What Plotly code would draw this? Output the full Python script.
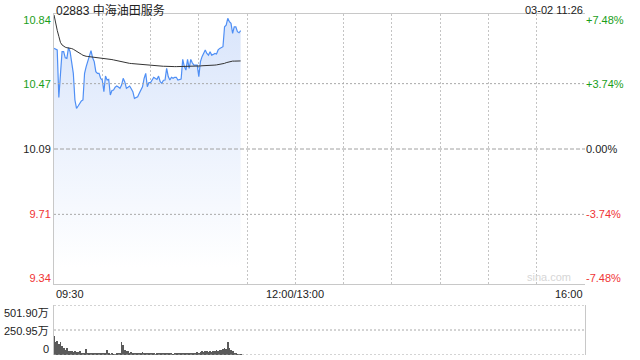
import plotly.graph_objects as go
import pandas as pd

stock_title = "02883 中海油田服务"
stamp = "03-02 11:26"
prev_close = 10.09

times = pd.date_range("2024-03-02 09:30", "2024-03-02 11:26", freq="min").strftime("%H:%M").tolist()

price = [
    10.675, 10.67, 10.666, 10.39, 10.52, 10.656, 10.656, 10.62, 10.617, 10.679,
    10.656, 10.60, 10.53, 10.375, 10.326, 10.34, 10.356, 10.37, 10.375, 10.53,
    10.569, 10.60, 10.636, 10.662, 10.62, 10.598, 10.54, 10.53, 10.53, 10.50,
    10.491, 10.423, 10.514, 10.491, 10.495, 10.404, 10.43, 10.433, 10.449, 10.456,
    10.45, 10.443, 10.462, 10.501, 10.48, 10.443, 10.449, 10.456, 10.44, 10.423,
    10.385, 10.39, 10.394, 10.414, 10.433, 10.452, 10.50, 10.53, 10.452, 10.476,
    10.476, 10.491, 10.507, 10.50, 10.495, 10.514, 10.481, 10.472, 10.49, 10.491,
    10.559, 10.511, 10.491, 10.507, 10.501, 10.507, 10.507, 10.491, 10.495, 10.497,
    10.611, 10.569, 10.549, 10.611, 10.559, 10.611, 10.59, 10.578, 10.578, 10.578,
    10.511, 10.598, 10.627, 10.65, 10.666, 10.646, 10.636, 10.656, 10.636, 10.64,
    10.646, 10.642, 10.666, 10.675, 10.68, 10.685, 10.801, 10.81, 10.85, 10.83,
    10.821, 10.762, 10.80, 10.80, 10.772, 10.766, 10.778,
]

avg_price = [
    10.87, 10.82, 10.78, 10.745, 10.71, 10.695, 10.686, 10.682, 10.679, 10.678,
    10.676, 10.674, 10.670, 10.665, 10.660, 10.655, 10.648, 10.641, 10.635, 10.631,
    10.629, 10.628, 10.627, 10.627, 10.626, 10.625, 10.624, 10.622, 10.621, 10.620,
    10.619, 10.618, 10.617, 10.615, 10.613, 10.612, 10.610, 10.608, 10.606, 10.604,
    10.602, 10.598, 10.594, 10.592, 10.591, 10.590, 10.589, 10.588, 10.587, 10.586,
    10.585, 10.584, 10.583, 10.582, 10.581, 10.580, 10.579, 10.578, 10.577, 10.576,
    10.575, 10.575, 10.574, 10.574, 10.573, 10.573, 10.572, 10.572, 10.571, 10.571,
    10.570, 10.570, 10.570, 10.569, 10.569, 10.569, 10.569, 10.569, 10.569, 10.569,
    10.570, 10.570, 10.570, 10.571, 10.571, 10.571, 10.572, 10.572, 10.572, 10.573,
    10.573, 10.573, 10.574, 10.574, 10.575, 10.575, 10.576, 10.576, 10.577, 10.577,
    10.578, 10.579, 10.580, 10.581, 10.583, 10.585, 10.588, 10.592, 10.595, 10.598,
    10.600, 10.601, 10.601, 10.602, 10.602, 10.602, 10.602,
]

volume = [  # 万股
    194, 126, 143, 109, 126, 92, 75, 48, 75, 41,
    45, 40, 35, 38, 35, 30, 38, 25, 22, 20,
    60, 15, 25, 20, 22, 18, 15, 20, 12, 15,
    20, 15, 12, 48, 12, 10, 18, 10, 8, 12,
    15, 20, 126, 100, 55, 40, 38, 20, 30, 25,
    15, 18, 12, 20, 25, 28, 18, 22, 20, 15,
    12, 15, 12, 10, 15, 18, 12, 20, 15, 18,
    25, 12, 15, 22, 10, 20, 15, 25, 18, 20,
    15, 22, 18, 25, 20, 15, 22, 18, 25, 28,
    20, 35, 40, 30, 38, 45, 35, 42, 30, 45,
    38, 48, 40, 50, 55, 60, 75, 65, 126, 70,
    48, 38, 25, 15, 10, 8, 5,
]

price_ticks = [10.84, 10.47, 10.09, 9.71, 9.34]
price_tick_colors = ["#1a9e1a", "#1a9e1a", "#222222", "#f03434", "#f03434"]
pct_labels = ["+7.48%", "+3.74%", "0.00%", "-3.74%", "-7.48%"]
vol_ticks = [0, 250.95, 501.90]
vol_labels = ["0", "250.95万", "501.90万"]
vol_label_px = [349, 331, 313]  # label centres in the reference sit slightly off the grid
x_label_pos = [0, 150, 330]
x_labels = ["09:30", "12:00/13:00", "16:00"]


def trade_minute(t):
    h, m = map(int, t.split(":"))
    mins = h * 60 + m - (9 * 60 + 30)
    if mins > 150:
        mins -= 60
    return mins


x = [trade_minute(t) for t in times]

W, H = 640, 360
L, R = 54, 585
main_top, main_bot = 14, 284
vol_top, vol_bot = 305, 355
dom_x = [L / W, R / W]
dom_main = [1 - main_bot / H, 1 - main_top / H]
dom_vol = [1 - vol_bot / H, 1 - vol_top / H]
y_range = [9.305, 10.875]

FONT = "Arial, Liberation Sans, Noto Sans CJK SC, sans-serif"

fig = go.Figure()

fig.add_trace(go.Scatter(
    x=x, y=price, mode="lines", line=dict(color="#4f8ff5", width=1.2),
    fill="tozeroy",
    fillgradient=dict(type="vertical", start=9.40, stop=10.85,
                      colorscale=[[0, "rgba(255,255,255,1)"], [1, "rgba(217,229,251,1)"]]),
    xaxis="x", yaxis="y", hoverinfo="skip", showlegend=False,
))
fig.add_trace(go.Scatter(
    x=x, y=avg_price, mode="lines", line=dict(color="#333333", width=1),
    xaxis="x", yaxis="y", hoverinfo="skip", showlegend=False,
))
fig.add_trace(go.Scatter(
    x=x, y=price, mode="lines", line=dict(width=0), opacity=0,
    xaxis="x", yaxis="y3", hoverinfo="skip", showlegend=False,
))
fig.add_trace(go.Bar(
    x=x, y=volume, width=0.5, marker=dict(color="#5a5a5a", line=dict(width=0)),
    xaxis="x2", yaxis="y2", hoverinfo="skip", showlegend=False,
))

grid_col = "#c4c4c4"
hgrid_col = "#a8a8a8"
border_col = "#c8c8c8"
DOT = "2px,2px"

shapes = []
for v, dash, col in [(10.47, DOT, hgrid_col), (9.71, DOT, hgrid_col), (10.09, "4px,2px", "#a0a0a0")]:
    shapes.append(dict(type="line", xref="x domain", yref="y", x0=0, x1=1, y0=v, y1=v,
                       line=dict(color=col, width=1, dash=dash), layer="above"))
for v in vol_ticks:
    shapes.append(dict(type="line", xref="x2 domain", yref="y2", x0=0, x1=1, y0=v, y1=v,
                       line=dict(color=hgrid_col, width=1, dash=DOT), layer="above"))

annotations = [
    dict(text=stock_title, xref="paper", yref="paper", x=L / W, y=1 - 1 / H,
         xanchor="left", yanchor="top", showarrow=False, font=dict(size=12, color="#222", family=FONT)),
    dict(text=stamp, xref="paper", yref="paper", x=R / W, y=1 - 2 / H,
         xanchor="right", yanchor="top", showarrow=False, font=dict(size=11, color="#222", family=FONT)),
    dict(text="sina.com", xref="paper", yref="paper", x=573 / W, y=1 - 285 / H,
         xanchor="right", yanchor="bottom", showarrow=False, font=dict(size=11, color="#d6d6d6", family=FONT)),
]
anchors = ["left", "center", "right"]
for pos, lab, anc in zip(x_label_pos, x_labels, anchors):
    annotations.append(dict(text=lab, xref="x", yref="paper", x=pos, y=1 - 286 / H,
                            xanchor=anc, yanchor="top", showarrow=False,
                            font=dict(size=11, color="#222", family=FONT)))
for lab, py in zip(vol_labels, vol_label_px):
    annotations.append(dict(text=lab, xref="paper", yref="paper", x=51 / W, y=1 - py / H,
                            xanchor="right", yanchor="middle", showarrow=False,
                            font=dict(size=11, color="#222", family=FONT)))

fig.update_layout(
    width=W, height=H, margin=dict(l=0, r=0, t=0, b=0),
    paper_bgcolor="white", plot_bgcolor="white",
    font=dict(family=FONT, size=11, color="#222"),
    bargap=0,
    xaxis=dict(domain=dom_x, range=[0, 330], tick0=0, dtick=30, showgrid=True,
               gridcolor=grid_col, griddash=DOT, gridwidth=1, showticklabels=False,
               zeroline=False, showline=True, linecolor=border_col, mirror=True, ticks=""),
    yaxis=dict(domain=dom_main, range=y_range, tickvals=price_ticks,
               ticktext=[f'<span style="color:{c}">{v:.2f}</span>' for v, c in zip(price_ticks, price_tick_colors)],
               showgrid=False, zeroline=False, showline=True, linecolor=border_col, ticks="",
               tickfont=dict(size=11)),
    yaxis3=dict(overlaying="y", side="right", range=y_range, tickvals=price_ticks,
                ticktext=[f'<span style="color:{c}">{t}</span>' for t, c in zip(pct_labels, price_tick_colors)],
                showgrid=False, zeroline=False, showline=False, ticks="", tickfont=dict(size=11)),
    xaxis2=dict(domain=dom_x, range=[0, 330], anchor="y2", showgrid=False, showticklabels=False,
                zeroline=False, showline=False, ticks=""),
    yaxis2=dict(domain=dom_vol, range=[0, 501.90], anchor="x2", tickvals=vol_ticks,
                showticklabels=False, showgrid=False, zeroline=False,
                showline=True, linecolor=border_col, mirror=True, ticks=""),
    shapes=shapes, annotations=annotations,
)

fig.write_html("out.html")
